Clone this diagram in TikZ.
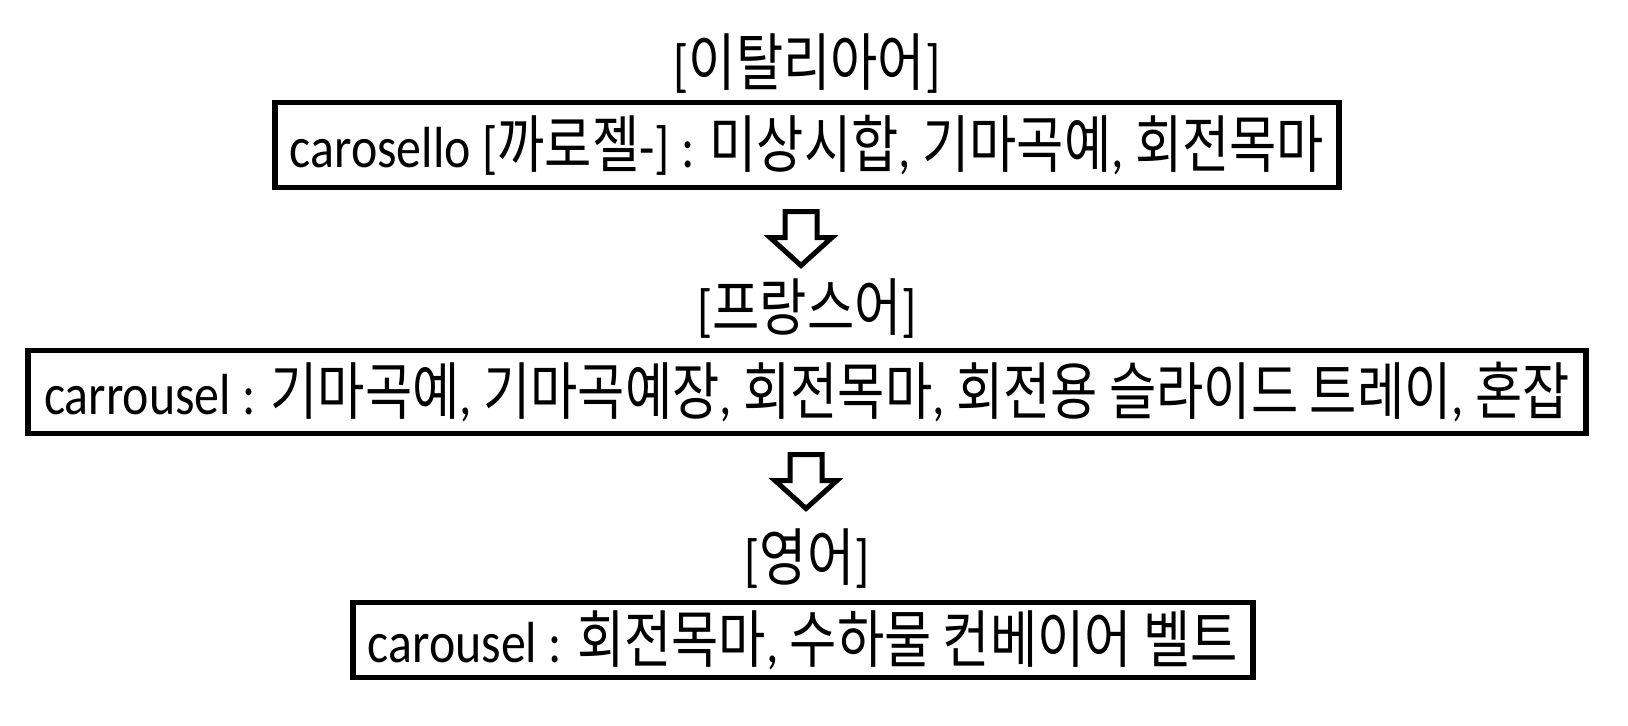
\documentclass[tikz,border=0pt]{standalone}
\usepackage{fontspec}
\setmainfont[FakeStretch=0.86]{Carlito}
\newfontfamily\krfont[Scale=1.08,FakeStretch=0.82]{Noto Sans CJK KR}
\newcommand{\ko}[1]{{\krfont #1}}

\tikzset{
	langbox/.style={draw, line width=2.6pt, inner sep=0pt, font=\fontsize{29}{34}\selectfont},
	langtitle/.style={inner sep=0pt, font=\fontsize{29}{34}\selectfont},
	downarrow/.pic={\draw[line width=2.5pt] (-16,0) -- (-16,26) -- (-31,26) -- (0,54) -- (31,26) -- (16,26) -- (16,0) -- cycle;}
}

\begin{document}
\begin{tikzpicture}[x=0.5pt,y=-0.5pt]
	\useasboundingbox (0,0) rectangle (1628,725);
	\node[langtitle] (it) at (807,64) {[\ko{이탈리아어}]};
	\node[langbox, minimum width=532pt, minimum height=42.4pt] (itbox) at (807,145) {carosello [\ko{까로젤}-] : \ko{미상시합}, \ko{기마곡예}, \ko{회전목마}};
	\pic at (801,211.5) {downarrow};
	\node[langtitle] (fr) at (807,309) {[\ko{프랑스어}]};
	\node[langbox, minimum width=779pt, minimum height=41.4pt] (frbox) at (807,392) {carrousel : \ko{기마곡예}, \ko{기마곡예장}, \ko{회전목마}, \ko{회전용 슬라이드 트레이}, \ko{혼잡}};
	\pic at (806,454.5) {downarrow};
	\node[langtitle] (en) at (807,559) {[\ko{영어}]};
	\node[langbox, minimum width=450pt, minimum height=37.4pt] (enbox) at (803,640) {carousel : \ko{회전목마}, \ko{수하물 컨베이어 벨트}};
\end{tikzpicture}
\end{document}
